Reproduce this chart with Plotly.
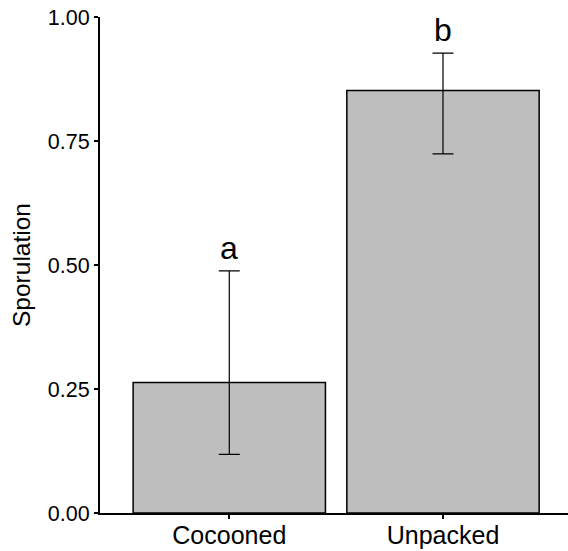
import plotly.graph_objects as go

categories = ["Cocooned", "Unpacked"]
means = [0.263, 0.852]
upper = [0.488, 0.927]
lower = [0.118, 0.724]
letters = ["a", "b"]

err_plus = [u - m for u, m in zip(upper, means)]
err_minus = [m - l for m, l in zip(means, lower)]

FONT = "Liberation Sans, Arial, sans-serif"

fig = go.Figure()
fig.add_trace(go.Bar(
    x=categories, y=means, width=0.9,
    marker=dict(color="#BEBEBE", line=dict(color="black", width=1.5)),
    error_y=dict(type="data", symmetric=False, array=err_plus, arrayminus=err_minus,
                 color="black", thickness=1.2, width=10.5),
))

for c, u, t in zip(categories, upper, letters):
    fig.add_annotation(x=c, y=u, text=t, showarrow=False, yanchor="bottom",
                       yshift=3, font=dict(family=FONT, size=32, color="black"))

fig.update_layout(
    width=568, height=551,
    margin=dict(l=100, r=0, t=17, b=38),
    plot_bgcolor="white", paper_bgcolor="white",
    showlegend=False,
    font=dict(family=FONT, color="black"),
    xaxis=dict(range=[-0.605, 1.585], showline=True, linecolor="black", linewidth=2,
               ticks="outside", ticklen=4, tickwidth=1.5, tickcolor="black",
               ticklabelstandoff=-5,
               tickfont=dict(size=25, color="black"), showgrid=False, zeroline=False),
    yaxis=dict(range=[0, 1], showline=True, linecolor="black", linewidth=2,
               ticks="outside", ticklen=4, tickwidth=1.5, tickcolor="black",
               tickvals=[0, 0.25, 0.5, 0.75, 1.0], ticktext=["0.00", "0.25", "0.50", "0.75", "1.00"],
               tickfont=dict(size=21.5, color="black"), showgrid=False, zeroline=False,
               title=dict(text="Sporulation", font=dict(size=24.5, color="black"), standoff=10)),
)

fig.write_html("out.html")
